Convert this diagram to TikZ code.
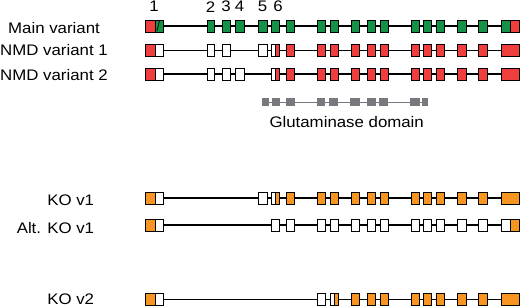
\documentclass[tikz,border=0pt]{standalone}
\usepackage{fontspec}
\setmainfont{Liberation Sans}[FakeStretch=1.1]
\definecolor{exgreen}{RGB}{22,145,72}
\definecolor{exred}{RGB}{240,62,62}
\definecolor{exorange}{RGB}{247,148,34}
\definecolor{exgray}{RGB}{120,120,126}
\begin{document}
\begin{tikzpicture}[x=1pt,y=-1pt,
  exon/.style={draw=black,line width=0.9pt},
  intron/.style={line width=1.3pt},
  rowtext/.style={font=\fontsize{15.3}{18}\selectfont,inner sep=0pt}]
  \useasboundingbox (0,0) rectangle (520,307);
  % 外显子编号
  \node[rowtext] (n1) at (154,6.7) {1};
  \node[rowtext] (n2) at (210.5,6.7) {2};
  \node[rowtext] (n3) at (226,6.7) {3};
  \node[rowtext] (n4) at (239.5,6.7) {4};
  \node[rowtext] (n5) at (262.5,6.7) {5};
  \node[rowtext] (n6) at (278,6.7) {6};
  % 行标签
  \node[rowtext] (main) at (54,28) {Main variant};
  \node[rowtext] (nmd1) at (54,50) {NMD variant 1};
  \node[rowtext] (nmd2) at (54,75) {NMD variant 2};
  \node[rowtext,anchor=east] (ko1) at (94.3,200.5) {KO v1};
  \node[rowtext,anchor=east] (altko1) at (94.3,228.5) {Alt. KO v1};
  \node[rowtext,anchor=east] (ko2) at (94.3,299) {KO v2};
  % 主变体
  \draw[intron] (163,26) -- (501,26);
  \foreach \a/\b/\c in {145/155/exred,155/163/exgreen,207/214/exgreen,222/230/exgreen,
    235/244/exgreen,258/267/exgreen,271/279/exgreen,286/294/exgreen,317/325/exgreen,
    330/338/exgreen,351/359/exgreen,367/375/exgreen,380/388/exgreen,411/419/exgreen,
    423/431/exgreen,436/444/exgreen,457/466/exgreen,478/487/exgreen,501/510/exgreen,510/519/exred}
    \draw[exon,fill=\c] (\a,20) rectangle (\b,32);
  \draw[line width=0.8pt] (155,20.5) -- (159.5,20.5) -- (157,31);
  % NMD 变体 1
  \draw[intron] (163,50.5) -- (501,50.5);
  \foreach \a/\b/\c in {145/155/exred,155/163/white,207/214/white,222/230/white,
    258/267/white,271/275/white,275/279/exred,286/294/exred,317/325/exred,
    330/338/exred,351/359/exred,367/375/exred,380/388/exred,411/419/exred,
    423/431/exred,436/444/exred,457/466/exred,478/487/exred,501/519/exred}
    \draw[exon,fill=\c] (\a,44.5) rectangle (\b,56.5);
  % NMD 变体 2
  \draw[intron] (163,74) -- (501,74);
  \foreach \a/\b/\c in {145/155/exred,155/163/white,207/214/white,222/230/white,
    235/244/white,271/275/white,275/279/exred,286/294/exred,317/325/exred,
    330/338/exred,351/359/exred,367/375/exred,380/388/exred,411/419/exred,
    423/431/exred,436/444/exred,457/466/exred,478/487/exred,501/519/exred}
    \draw[exon,fill=\c] (\a,68) rectangle (\b,80);
  % 谷氨酰胺酶结构域
  \draw[exgray,line width=1pt] (262,102.5) -- (428,102.5);
  \foreach \a/\b in {262/269,272/280,286/295,317/325,329/338,350/360,367/376,379/388,410/420,422/428}
    \fill[exgray] (\a,98.5) rectangle (\b,106.5);
  \node[rowtext] (glsdomain) at (346.7,122) {Glutaminase domain};
  % KO v1
  \draw[intron] (163,198) -- (501,198);
  \foreach \a/\b/\c in {145/155/exorange,155/163/white,258/267/white,271/275/white,
    275/279/exorange,286/294/exorange,317/325/exorange,330/338/exorange,351/359/exorange,
    367/375/exorange,380/388/exorange,411/419/exorange,423/431/exorange,436/444/exorange,
    457/466/exorange,478/487/exorange,501/519/exorange}
    \draw[exon,fill=\c] (\a,192) rectangle (\b,204);
  % Alt. KO v1
  \draw[intron] (163,225) -- (501,225);
  \foreach \a/\b/\c in {145/155/exorange,155/163/white,271/279/white,286/294/white,
    317/325/white,330/338/white,351/359/white,367/375/white,380/388/white,411/419/white,
    423/431/white,436/444/white,457/466/white,478/487/white,501/510/white,510/519/exorange}
    \draw[exon,fill=\c] (\a,219) rectangle (\b,231);
  % KO v2
  \draw[intron] (163,299.5) -- (501,299.5);
  \foreach \a/\b/\c in {145/155/exorange,155/163/white,317/325/white,330/334/white,
    334/338/exorange,351/359/exorange,367/375/exorange,380/388/exorange,411/419/exorange,
    423/431/exorange,436/444/exorange,457/466/exorange,478/487/exorange,501/519/exorange}
    \draw[exon,fill=\c] (\a,293.5) rectangle (\b,305.5);
\end{tikzpicture}
\end{document}
